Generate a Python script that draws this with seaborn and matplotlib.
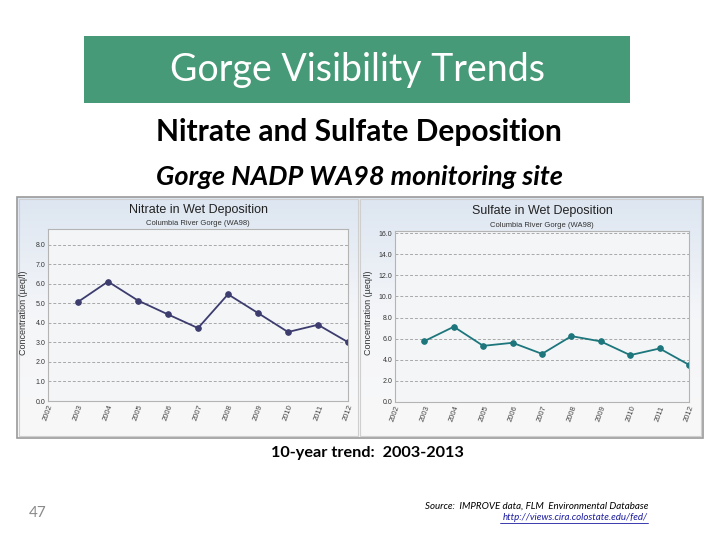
import numpy as np
import pandas as pd
import matplotlib
matplotlib.use("Agg")
import matplotlib.pyplot as plt
import seaborn as sns
from matplotlib.patches import Rectangle
from matplotlib.colors import LinearSegmentedColormap

# ---- data ----
years = [2003, 2004, 2005, 2006, 2007, 2008, 2009, 2010, 2011, 2012]
nitrate = [5.07, 6.11, 5.14, 4.43, 3.73, 5.46, 4.50, 3.53, 3.90, 3.01]
sulfate = [5.77, 7.13, 5.32, 5.61, 4.56, 6.24, 5.74, 4.44, 5.07, 3.52]
xtick_years = [2002, 2003, 2004, 2005, 2006, 2007, 2008, 2009, 2010, 2011, 2012]
nitrate_yticks = [0, 1, 2, 3, 4, 5, 6, 7, 8]
sulfate_yticks = [0, 2, 4, 6, 8, 10, 12, 14, 16]

sns.set_theme(style="white")
plt.rcParams['font.family'] = ['Liberation Sans', 'DejaVu Sans']

W, H = 720, 540
fig = plt.figure(figsize=(7.2, 5.4), dpi=100)
fig.patch.set_facecolor("white")

def fx(x): return x / W
def fy(y): return 1 - y / H

# background layer in pixel coordinates
bg = fig.add_axes([0, 0, 1, 1], zorder=0)
bg.set_xlim(0, W); bg.set_ylim(H, 0); bg.axis("off")

# green banner
bg.add_patch(Rectangle((84, 36), 546, 67, facecolor="#479a78", edgecolor="none"))

# panel with gradient
grad = np.linspace(0, 1, 100).reshape(-1, 1)
cmap = LinearSegmentedColormap.from_list("g", ["#dde6f1", "#f5f6f9", "#f8f8f8"])
bg.imshow(grad, extent=(17, 703, 438, 197), cmap=cmap, aspect="auto", zorder=1)
bg.add_patch(Rectangle((17, 197), 686, 241, facecolor="none", edgecolor="#9a9a9a", lw=1.2, zorder=2))
bg.add_patch(Rectangle((19, 199), 339, 237, facecolor="none", edgecolor="#cfcfcf", lw=0.8, zorder=2))
bg.add_patch(Rectangle((360, 199), 341, 237, facecolor="none", edgecolor="#cfcfcf", lw=0.8, zorder=2))

SLIDE = ["Lato", "DejaVu Sans"]
# slide text
fig.text(fx(357), fy(70), "Gorge Visibility Trends", color="white", fontsize=27,
         ha="center", va="center", family=SLIDE)
fig.text(fx(359), fy(132), "Nitrate and Sulfate Deposition", color="black", fontsize=21.5,
         ha="center", va="center", fontweight="bold", family=SLIDE)
fig.text(fx(359), fy(177), "Gorge NADP WA98 monitoring site", color="black", fontsize=19.5,
         ha="center", va="center", fontweight="bold", style="italic", family=SLIDE)
fig.text(fx(367), fy(453), "10-year trend:  2003-2013", color="black", fontsize=11.7,
         ha="center", va="center", fontweight="bold", family=SLIDE)
fig.text(fx(38), fy(513), "47", color="#8a8a8a", fontsize=11,
         ha="center", va="center", family=SLIDE)
fig.text(fx(648), fy(506), "Source:  IMPROVE data, FLM  Environmental Database", color="black",
         fontsize=7, ha="right", va="center", style="italic", family=SLIDE)
fig.text(fx(648), fy(518), "http://views.cira.colostate.edu/fed/", color="#1a1aa0",
         fontsize=7, ha="right", va="center", style="italic", family=SLIDE)
bg.plot([500, 648], [522.5, 522.5], color="#1a1aa0", lw=0.6, zorder=3)

def make_chart(rect, vals, color, yticks, ymax, title, tx, ty, ylab_x):
    ax = fig.add_axes(rect, zorder=2)
    ax.set_facecolor("#f4f5f7")
    df = pd.DataFrame({"Year": years, "Value": vals})
    sns.lineplot(data=df, x="Year", y="Value", ax=ax, color=color, lw=1.3,
                 marker="o", markersize=4, markeredgecolor=color, markerfacecolor=color)
    ax.set_xlim(2002, 2012)
    ax.set_ylim(0, ymax)
    ax.set_yticks(yticks)
    ax.set_yticklabels([f"{v:.1f}" for v in yticks], fontsize=5, color="#333333")
    ax.set_xticks(xtick_years)
    ax.set_xticklabels([str(y) for y in xtick_years], fontsize=5.5, rotation=70,
                       color="#444444", ha="right", rotation_mode="anchor")
    ax.grid(axis="y", linestyle=(0, (3, 2)), color="#a8a8a8", lw=0.7)
    ax.set_axisbelow(True)
    for s in ax.spines.values():
        s.set_color("#b4b4b4"); s.set_linewidth(0.8)
    ax.tick_params(axis="both", length=0, pad=2)
    ax.set_xlabel(""); ax.set_ylabel("")
    fig.text(fx(tx), fy(ty), title, fontsize=9, ha="center", va="center", color="#222222")
    fig.text(fx(tx), fy(ty + 14), "Columbia River Gorge (WA98)", fontsize=5.5,
             ha="center", va="center", color="#333333")
    fig.text(fx(ylab_x), fy(313), "Concentration (\u00b5eq/l)", fontsize=6.5, rotation=90,
             ha="center", va="center", color="#333333")
    return ax

make_chart([fx(48), fy(401), fx(300), 172 / H], nitrate, "#3c3c6e", nitrate_yticks, 8.8,
           "Nitrate in Wet Deposition", 198, 210, 24)
make_chart([fx(395), fy(402), fx(294), 171 / H], sulfate, "#1c767c", sulfate_yticks, 16.2,
           "Sulfate in Wet Deposition", 542, 211, 369)

fig.savefig("out.png", dpi=100, facecolor="white")
